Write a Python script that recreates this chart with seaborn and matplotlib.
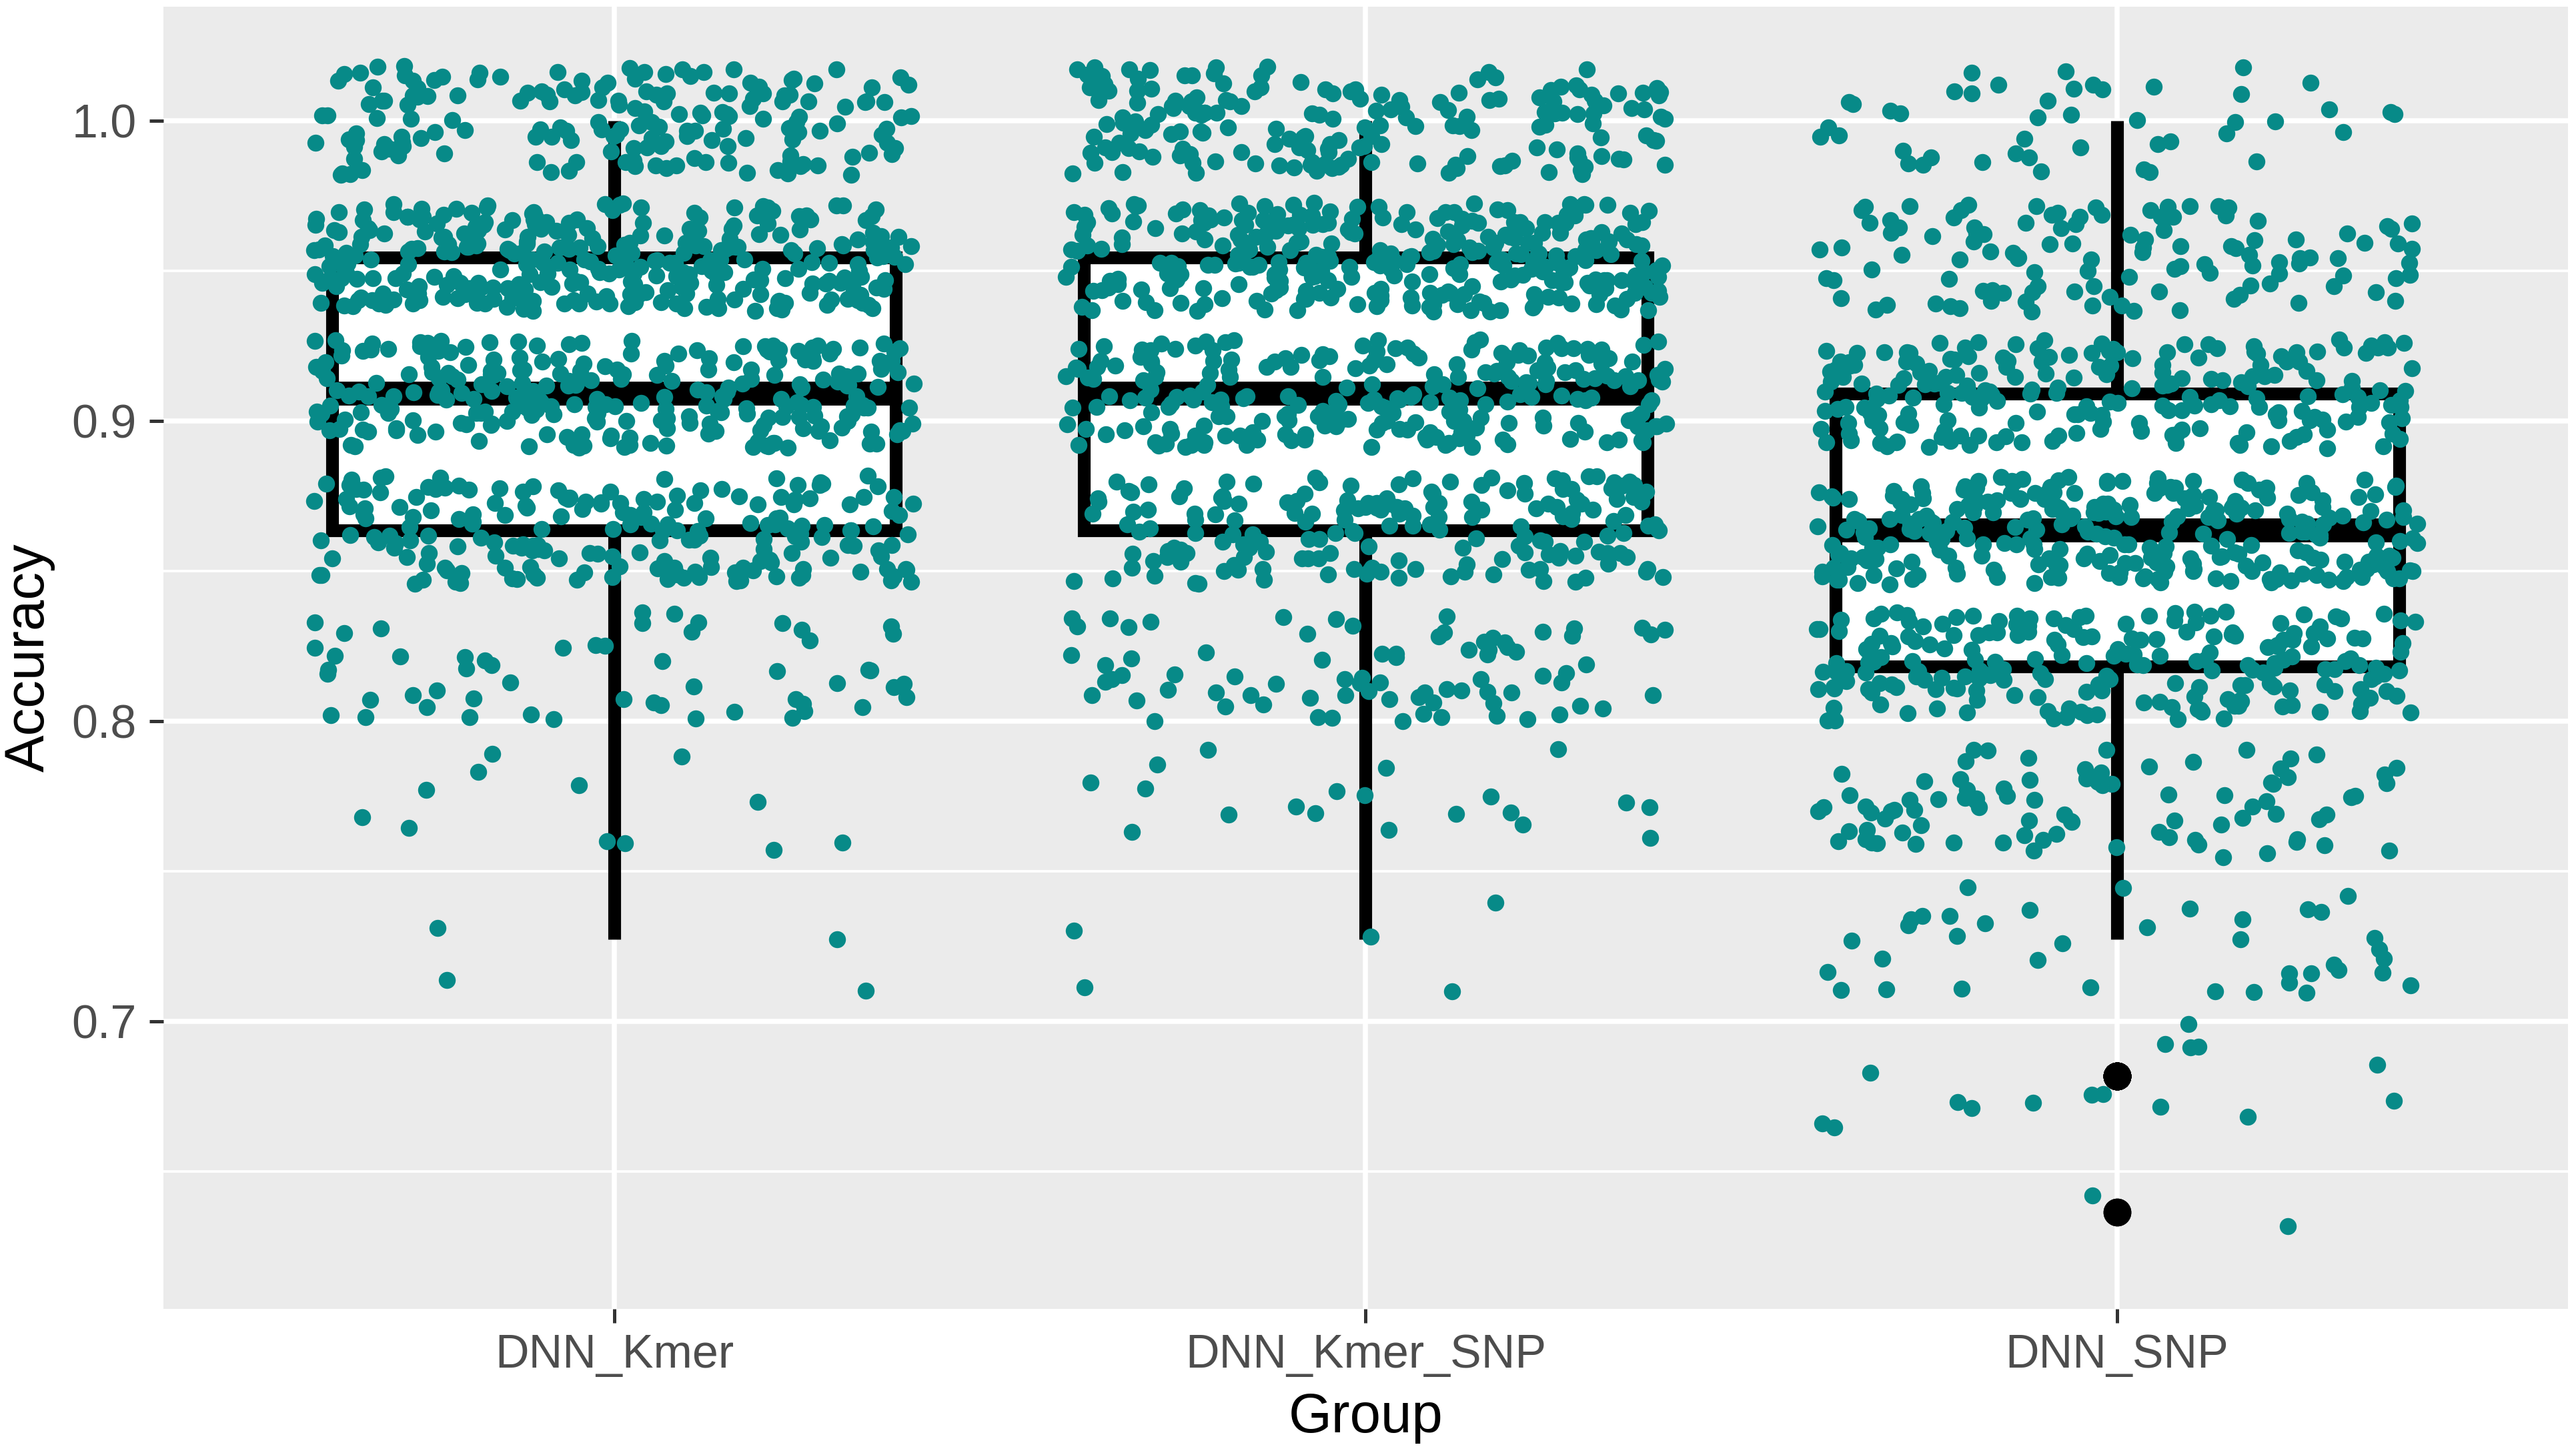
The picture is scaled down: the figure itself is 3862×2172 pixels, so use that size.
import numpy as np
import pandas as pd
import matplotlib
matplotlib.use("Agg")
import matplotlib.pyplot as plt
import seaborn as sns

plt.rcParams['font.family'] = ['Liberation Sans', 'DejaVu Sans']

# Accuracy levels seen in the plot (k/22 correct) and how many runs hit each one
groups = ['DNN_Kmer', 'DNN_Kmer_SNP', 'DNN_SNP']
levels = [0.6364, 0.6818, 0.7273, 0.7727, 0.8182, 0.8636, 0.9091, 0.9545, 1.0]
kmer_counts = [0, 0, 4, 12, 55, 195, 255, 305, 174]
kmer_snp_counts = [0, 0, 5, 20, 80, 180, 240, 295, 180]
snp_counts = [2, 16, 38, 88, 205, 280, 212, 114, 45]

y_ticks = [0.7, 0.8, 0.9, 1.0]
y_minor = [0.65, 0.75, 0.85, 0.95]

rows = []
for g, cnts in zip(groups, [kmer_counts, kmer_snp_counts, snp_counts]):
    for lv, n in zip(levels, cnts):
        rows += [(g, lv)] * n
df = pd.DataFrame(rows, columns=['Group', 'Accuracy'])

# vertical jitter like geom_jitter (40% of the level spacing), display only
rng = np.random.default_rng(11)
df['Accuracy_jit'] = df['Accuracy'] + rng.uniform(-0.4 / 22, 0.4 / 22, len(df))

fig = plt.figure(figsize=(3862 / 300, 2172 / 300), dpi=300)
ax = fig.add_axes([0.0634, 0.0967, 0.9335, 0.8987])
ax.set_facecolor('#EBEBEB')
for s in ax.spines.values():
    s.set_visible(False)

# grid
ax.set_axisbelow(True)
for v in y_ticks:
    ax.axhline(v, color='white', lw=1.8, zorder=0)
for v in y_minor:
    ax.axhline(v, color='white', lw=0.9, zorder=0)
for i in range(len(groups)):
    ax.axvline(i, color='white', lw=1.8, zorder=0)

sns.boxplot(data=df, x='Group', y='Accuracy', order=groups, ax=ax,
            width=0.75, color='white', saturation=1, linecolor='black',
            linewidth=4.6, showcaps=False, whis=1.5,
            flierprops=dict(marker='o', markerfacecolor='black',
                            markeredgecolor='black', markersize=9),
            medianprops=dict(linewidth=8.6, color='black'))

np.random.seed(5)
sns.stripplot(data=df, x='Group', y='Accuracy_jit', order=groups, ax=ax,
              jitter=0.4, color='#078A88', size=6.1, linewidth=0, zorder=3)

ax.set_xlim(-0.6, 2.6)
ax.set_ylim(0.6042, 1.038)
ax.set_yticks(y_ticks)
ax.set_yticklabels(['0.7', '0.8', '0.9', '1.0'])
ax.tick_params(axis='both', length=5, width=1.2, color='#333333',
               labelcolor='#4D4D4D', labelsize=16.8)
ax.tick_params(axis='y', pad=4.6)
ax.tick_params(axis='x', pad=4.0)

ax.set_xlabel('Group', fontsize=20, color='black')
ax.set_ylabel('Accuracy', fontsize=20, color='black')
ax.xaxis.set_label_coords(0.5, -0.0835)
ax.xaxis.label.set_va('center')
ax.yaxis.set_label_coords(-0.0557, 0.5)
ax.yaxis.label.set_va('center')

fig.savefig('out.png', dpi=300)
